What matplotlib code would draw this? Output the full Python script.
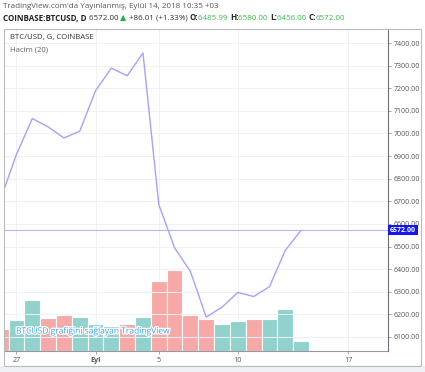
import numpy as np
import matplotlib.pyplot as plt
import matplotlib.patheffects as pe
from matplotlib.patches import Rectangle

# day index: 0 = Aug 27 2018
days = np.arange(-1, 19)
close = [6710, 6908, 7066, 7029, 6980, 7010, 7189, 7289, 7255, 7356,
         6686, 6494, 6390, 6188, 6232, 6297, 6279, 6322, 6483, 6572]
volume = [5500, 7750, 12750, 8250, 8900, 8400, 6800, 6300, 6650, 8550,
          17500, 20250, 9050, 8050, 6800, 7550, 8050, 7900, 10500, 2400]
up = [0, 1, 1, 0, 0, 1, 1, 1, 0, 1, 0, 0, 0, 0, 1, 1, 0, 1, 1, 1]
tick_pos = [0, 5, 9, 14, 21]
tick_lab = ['27', 'Eyl', '5', '10', '17']
price_ticks = np.arange(6100, 7500, 100)
last = 6572.00

W, H = 425, 372
fig = plt.figure(figsize=(W / 100, H / 100), dpi=100)
fig.patch.set_facecolor('white')
plt.rcParams['font.family'] = ['Open Sans', 'DejaVu Sans']

def px(x, y):
    return x / W, 1 - y / H

# gray strip at bottom and panel frame
fig.patches.append(Rectangle((0, 0), 1, (H - 366) / H, transform=fig.transFigure,
                             color='#eef0f4', zorder=0))
fig.patches.append(Rectangle(px(4, 366), (421 - 4) / W, (366 - 29) / H,
                             transform=fig.transFigure, fill=False,
                             ec='#b8bbc4', lw=0.8, zorder=1))

l, b = px(4, 351)
rect = [l, b, (388 - 4) / W, (351 - 29) / H]
axv = fig.add_axes(rect)
ax = fig.add_axes(rect, sharex=axv)
ax.patch.set_alpha(0)

bar_cols = ['#92d2cc' if u else '#f7a9a7' for u in up]
axv.bar(days, volume, width=1.0, color=bar_cols, edgecolor='white', lw=0.8)
axv.set_ylim(0, max(volume) / 0.2516)
axv.set_yticks([])
axv.set_xticks(tick_pos)
axv.tick_params(axis='x', labelbottom=False, length=0)
axv.grid(axis='x', color='#eef1f6', lw=0.7)
axv.set_axisbelow(True)
for s in ['top', 'left', 'right']:
    axv.spines[s].set_visible(False)
axv.spines['bottom'].set_color('#9598a1')
axv.spines['bottom'].set_linewidth(0.8)

ax.plot(days, close, color='#a3a3ff', lw=1.0)
ax.axhline(last, color='#b4b4ff', lw=0.8)
ax.set_xlim(-0.79, 23.5)
ax.set_ylim(6038, 7462)
ax.set_yticks(price_ticks)
ax.set_yticklabels(['%.2f' % p for p in price_ticks])
ax.yaxis.tick_right()
ax.tick_params(axis='y', length=2.5, width=0.6, color='#9598a1',
               labelsize=5, labelcolor='#555555', pad=1.5)
ax.tick_params(axis='x', length=2.5, width=0.6, color='#9598a1',
               labelsize=5.2, labelcolor='#555555', pad=2)
ax.set_xticks(tick_pos)
ax.set_xticklabels(tick_lab)
ax.get_xticklabels()[1].set_fontweight('bold')
ax.grid(axis='y', color='#eef1f6', lw=0.7)
for s in ['top', 'left', 'bottom']:
    ax.spines[s].set_visible(False)
ax.spines['right'].set_color('#6e717a')
ax.spines['right'].set_linewidth(0.8)

ax.annotate('%.2f' % last, xy=(1, last), xycoords=('axes fraction', 'data'),
            xytext=(1.5, 0), textcoords='offset points', ha='left', va='center',
            fontsize=5, color='white', fontweight='bold',
            bbox=dict(boxstyle='square,pad=0.25', fc='#1515f0', ec='none'))

ax.text(6 / 384, 1 - 9 / 322, 'BTC/USD, G, COINBASE', transform=ax.transAxes,
        fontsize=5.6, color='#333333', va='center')
ax.text(6 / 384, 1 - 21 / 322, 'Hacim (20)', transform=ax.transAxes,
        fontsize=5.6, color='#666666', va='center')
ax.text(12 / 384, 1 - 303 / 322, 'BTCUSD grafiğini sağlayan TradingView',
        transform=ax.transAxes, fontsize=6.1, color='#3d9df2', va='center',
        path_effects=[pe.withStroke(linewidth=1.8, foreground='white')])

# header
fig.text(*px(3, 7), "TradingView.com'da Yayınlanmış, Eylül 14, 2018 10:35 +03",
         fontsize=5.8, color='#555555', va='center')

pieces = [('COINBASE:BTCUSD, D ', '#222222', 'bold'),
          ('6572.00 ', '#333333', 'normal'),
          ('▲ ', '#1fae3f', 'normal'),
          ('+86.01 (+1.33%) ', '#333333', 'normal'),
          ('O:', '#222222', 'bold'), ('6485.99 ', '#3cb94a', 'normal'),
          ('H:', '#222222', 'bold'), ('6580.00 ', '#3cb94a', 'normal'),
          ('L:', '#222222', 'bold'), ('6456.00 ', '#3cb94a', 'normal'),
          ('C:', '#222222', 'bold'), ('6572.00', '#3cb94a', 'normal')]
fig.canvas.draw()
r = fig.canvas.get_renderer()
x = 3
for txt, col, wt in pieces:
    t = fig.text(*px(x, 18), txt, fontsize=5.8, color=col, fontweight=wt,
                 va='center', family=['DejaVu Sans'] if txt.startswith('▲') else None)
    x += t.get_window_extent(r).width

fig.savefig('out.png', dpi=100)
